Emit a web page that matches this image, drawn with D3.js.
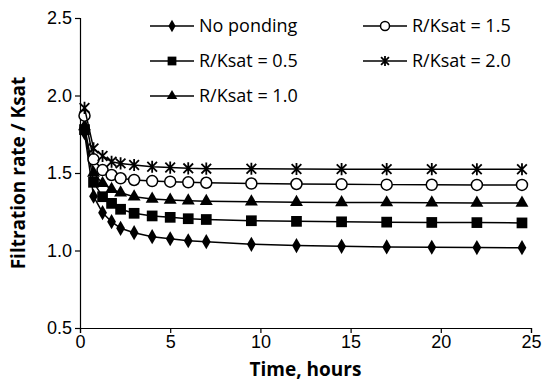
<!DOCTYPE html>
<html>
<head>
<meta charset="utf-8">
<script src="https://cdn.jsdelivr.net/npm/d3@7"></script>
<style>
  body { margin: 0; background: #fff; }
  svg { font-family: "Open Sans", "Liberation Sans", sans-serif; }
  .axis text { font-size: 18px; fill: #000; }
  .axis path, .axis line { stroke: #000; stroke-width: 1.2; }
</style>
</head>
<body>
<svg width="550" height="381"></svg>
<script>
// time in hours
const times = [0.25, 0.75, 1.25, 1.75, 2.25, 3, 4, 5, 6, 7, 9.5, 12, 14.5, 17, 19.5, 22, 24.5];

const noPonding = [1.76, 1.35, 1.244, 1.186, 1.143, 1.115, 1.089, 1.076, 1.063, 1.057, 1.040, 1.032, 1.027, 1.023, 1.021, 1.019, 1.018];
const rk05 = [1.78, 1.44, 1.347, 1.304, 1.266, 1.240, 1.223, 1.214, 1.205, 1.200, 1.192, 1.188, 1.185, 1.183, 1.181, 1.180, 1.178];
const rk10 = [1.80, 1.50, 1.433, 1.395, 1.373, 1.347, 1.332, 1.326, 1.321, 1.318, 1.314, 1.312, 1.310, 1.309, 1.308, 1.307, 1.306];
const rk15 = [1.87, 1.588, 1.519, 1.487, 1.466, 1.455, 1.448, 1.444, 1.440, 1.437, 1.432, 1.429, 1.427, 1.425, 1.424, 1.423, 1.423];
const rk20 = [1.92, 1.659, 1.610, 1.573, 1.562, 1.552, 1.540, 1.535, 1.530, 1.528, 1.527, 1.526, 1.525, 1.525, 1.525, 1.524, 1.524];

const xTicks = [0, 5, 10, 15, 20, 25];
const yTicks = [0.5, 1.0, 1.5, 2.0, 2.5];

const series = [
  { name: 'No ponding', values: noPonding, marker: 'diamond' },
  { name: 'R/Ksat = 0.5', values: rk05, marker: 'square' },
  { name: 'R/Ksat = 1.0', values: rk10, marker: 'triangle' },
  { name: 'R/Ksat = 1.5', values: rk15, marker: 'circle' },
  { name: 'R/Ksat = 2.0', values: rk20, marker: 'star' }
];

const margin = { top: 18, right: 19, bottom: 53, left: 80 },
  width = 550 - margin.left - margin.right,
  height = 381 - margin.top - margin.bottom;

const x = d3.scaleLinear().domain([0, 25]).range([0, width]);
const y = d3.scaleLinear().domain([0.5, 2.5]).range([height, 0]);

const svg = d3.select('svg')
  .append('g')
  .attr('transform', `translate(${margin.left}, ${margin.top})`);

// axes
svg.append('g')
  .attr('class', 'axis')
  .attr('transform', `translate(0, ${height})`)
  .call(d3.axisBottom(x).tickValues(xTicks).tickSizeOuter(0).tickSize(5).tickPadding(2));

svg.append('g')
  .attr('class', 'axis')
  .call(d3.axisLeft(y).tickValues(yTicks).tickFormat(d3.format('.1f')).tickSizeOuter(0).tickSize(5).tickPadding(3));

// axis titles
svg.append('text')
  .attr('x', width / 2)
  .attr('y', height + 48)
  .attr('text-anchor', 'middle')
  .style('font-size', '19px')
  .style('font-weight', 'bold')
  .text('Time, hours');

svg.append('text')
  .attr('transform', `translate(${-55}, ${height / 2}) rotate(-90)`)
  .attr('text-anchor', 'middle')
  .style('font-size', '19px')
  .style('font-weight', 'bold')
  .text('Filtration rate / Ksat');

function drawMarker(g, type, size) {
  if (type === 'circle') {
    g.append('circle').attr('r', size * 0.5).attr('fill', '#fff').attr('stroke', '#000').attr('stroke-width', 1.5);
  } else if (type === 'star') {
    // asterisk: X plus vertical bar
    const r = size * 0.55;
    const path = `M0,${-r}L0,${r}M${-r * 0.8},${-r * 0.8}L${r * 0.8},${r * 0.8}M${-r * 0.8},${r * 0.8}L${r * 0.8},${-r * 0.8}`;
    g.append('path').attr('d', path).attr('stroke', '#000').attr('stroke-width', 1.8).attr('fill', 'none');
  } else {
    const sym = { diamond: d3.symbolDiamond, square: d3.symbolSquare, triangle: d3.symbolTriangle }[type];
    const area = { diamond: size * size * 0.55, square: size * size * 0.95, triangle: size * size * 0.6 }[type];
    g.append('path').attr('d', d3.symbol(sym, area)()).attr('fill', '#000');
  }
}

const line = d3.line().x(d => x(d[0])).y(d => y(d[1]));

series.forEach(s => {
  const pts = times.map((t, i) => [t, s.values[i]]);
  svg.append('path')
    .datum(pts)
    .attr('d', line)
    .attr('fill', 'none')
    .attr('stroke', '#000')
    .attr('stroke-width', 1.5);
  svg.selectAll(null)
    .data(pts)
    .enter()
    .append('g')
    .attr('transform', d => `translate(${x(d[0])}, ${y(d[1])})`)
    .each(function () { drawMarker(d3.select(this), s.marker, 11); });
});

// legend
const legendPos = [[70, 8], [70, 43], [70, 78], [283, 8], [283, 43]];
series.forEach((s, i) => {
  const g = svg.append('g').attr('transform', `translate(${legendPos[i][0]}, ${legendPos[i][1]})`);
  g.append('line').attr('x1', 0).attr('x2', 44).attr('stroke', '#000').attr('stroke-width', 1.5);
  const m = g.append('g').attr('transform', 'translate(22, 0)');
  drawMarker(m, s.marker, 9);
  g.append('text')
    .attr('x', 49)
    .attr('dy', '0.35em')
    .style('font-size', '18px')
    .text(s.name);
});
</script>
</body>
</html>
